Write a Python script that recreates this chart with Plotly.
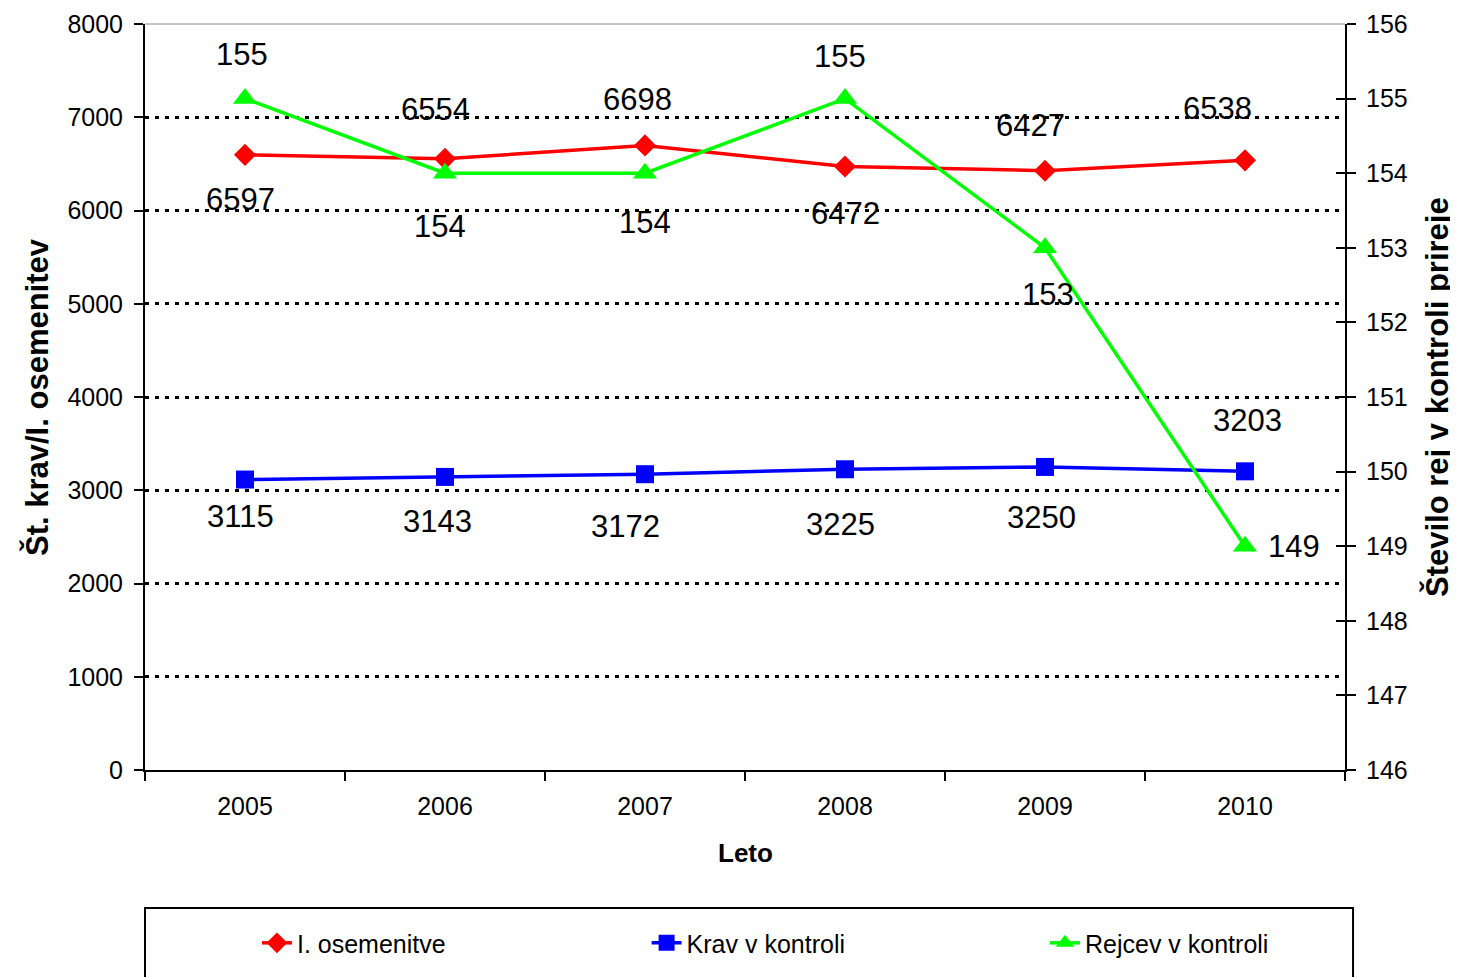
import plotly.graph_objects as go

# ---- data ----
years = ["2005", "2006", "2007", "2008", "2009", "2010"]
osemenitve = [6597, 6554, 6698, 6472, 6427, 6538]
krav = [3115, 3143, 3172, 3225, 3250, 3203]
rejcev = [155, 154, 154, 155, 153, 149]

left_ticks = [0, 1000, 2000, 3000, 4000, 5000, 6000, 7000, 8000]
right_ticks = [146, 147, 148, 149, 150, 151, 152, 153, 154, 155, 156]

# ---- label placement (style) : (xshift, yshift) in px ----
osem_lbl = [(-5, -45), (-10, 49), (-8, 46), (0, -47), (-15, 45), (-28, 52)]
krav_lbl = [(-5, -37), (-8, -45), (-20, -52), (-5, -55), (-4, -51), (2, 51)]
rej_lbl = [(-3, 44), (-5, -53), (0, -49), (-5, 42), (3, -47), (49, 0)]

FONT = "Arial, Liberation Sans, sans-serif"

fig = go.Figure()
fig.add_trace(go.Scatter(
    x=years, y=osemenitve, name="I. osemenitve", mode="lines+markers",
    line=dict(color="#FF0000", width=3.5),
    marker=dict(symbol="diamond", size=17, color="#FF0000"),
    yaxis="y", legend="legend"))
fig.add_trace(go.Scatter(
    x=years, y=krav, name="Krav v kontroli", mode="lines+markers",
    line=dict(color="#0000FF", width=3.5),
    marker=dict(symbol="square", size=18, color="#0000FF"),
    yaxis="y", legend="legend2"))
fig.add_trace(go.Scatter(
    x=years, y=rejcev, name="Rejcev v kontroli", mode="lines+markers",
    line=dict(color="#00FF00", width=3.5),
    marker=dict(symbol="triangle-up", size=21, color="#00FF00"),
    yaxis="y2", legend="legend3"))

annotations = []
for vals, offs, yref in ((osemenitve, osem_lbl, "y"), (krav, krav_lbl, "y"), (rejcev, rej_lbl, "y2")):
    for i, (v, (dx, dy)) in enumerate(zip(vals, offs)):
        annotations.append(dict(
            x=i, y=v, xref="x", yref=yref, text=str(v), showarrow=False,
            xanchor="center", yanchor="middle",
            xshift=dx, yshift=dy, font=dict(size=31, color="black", family=FONT)))

# axis titles
annotations.append(dict(text="<b>Št. krav/I. osemenitev</b>", xref="paper", yref="paper",
                        x=0, y=0.5, xanchor="center", yanchor="middle", xshift=-108,
                        textangle=-90, showarrow=False,
                        font=dict(size=31, color="black", family=FONT)))
annotations.append(dict(text="<b>Število rej v kontroli prireje</b>", xref="paper", yref="paper",
                        x=1, y=0.5, xanchor="center", yanchor="middle", xshift=92,
                        textangle=-90, showarrow=False,
                        font=dict(size=31, color="black", family=FONT)))
annotations.append(dict(text="<b>Leto</b>", xref="paper", yref="paper",
                        x=0.5, y=0, xanchor="center", yanchor="middle", yshift=-83,
                        showarrow=False, font=dict(size=26, color="black", family=FONT)))

leg_common = dict(orientation="h", yanchor="middle", xanchor="left", y=-0.232,
                  font=dict(size=25, family=FONT, color="black"),
                  bgcolor="rgba(0,0,0,0)")

fig.update_layout(
    width=1450, height=969,
    margin=dict(l=137, r=113, t=16, b=207, autoexpand=False),
    paper_bgcolor="white", plot_bgcolor="white",
    font=dict(family=FONT, size=25, color="black"),
    showlegend=True,
    legend=dict(x=0.0933, **leg_common),
    legend2=dict(x=0.418, **leg_common),
    legend3=dict(x=0.75, **leg_common),
    annotations=annotations,
    xaxis=dict(type="category", tickson="boundaries", ticks="outside", ticklen=9,
               tickcolor="black", tickwidth=2, showline=True, linecolor="black", linewidth=2,
               showgrid=False, ticklabelstandoff=13, tickfont=dict(size=25),
               range=[-0.5, 5.5], automargin=False),
    yaxis=dict(range=[0, 8000], tickvals=left_ticks, tickformat="d", ticks="outside",
               ticklen=9, tickcolor="black", tickwidth=2, showline=True, linecolor="black",
               linewidth=2, showgrid=True, gridcolor="black", gridwidth=2.5,
               griddash="4px,6px", zeroline=False, ticklabelstandoff=6,
               tickfont=dict(size=25), automargin=False),
    yaxis2=dict(range=[146, 156], tickvals=right_ticks, overlaying="y", side="right",
                ticks="outside", ticklen=9, tickcolor="black", tickwidth=2,
                showline=True, linecolor="black", linewidth=2, showgrid=False,
                zeroline=False, ticklabelstandoff=5, tickfont=dict(size=25),
                automargin=False),
    yaxis3=dict(range=[146, 156], tickvals=right_ticks, overlaying="y", side="right",
                anchor="x", ticks="inside", ticklen=9, tickcolor="black", tickwidth=2,
                showticklabels=False, showline=False, showgrid=False, zeroline=False,
                automargin=False),
    shapes=[
        dict(type="line", xref="paper", yref="paper", x0=0, x1=1, y0=1, y1=1,
             line=dict(color="#888888", width=1)),
        dict(type="rect", xref="paper", yref="paper", x0=0, x1=1.0067, y0=-0.185, y1=-0.32,
             line=dict(color="black", width=2), fillcolor="rgba(0,0,0,0)"),
    ],
)
# invisible trace to activate yaxis3 ticks
fig.add_trace(go.Scatter(x=years, y=rejcev, yaxis="y3", mode="none", showlegend=False,
                         hoverinfo="skip"))

fig.write_html("out.html")
